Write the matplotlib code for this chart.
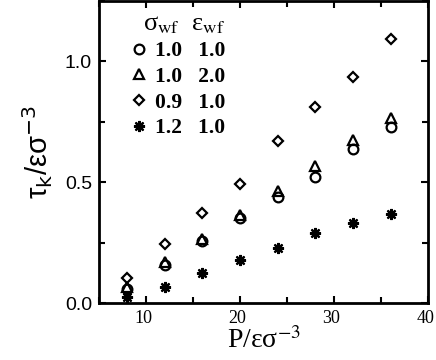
import matplotlib
matplotlib.use("Agg")
import matplotlib.pyplot as plt
import matplotlib.transforms as mtransforms
from matplotlib.ticker import MultipleLocator

P = [8, 12, 16, 20, 24, 28, 32, 36]
tau_s10_e10 = [0.060, 0.159, 0.256, 0.354, 0.441, 0.522, 0.639, 0.727]
tau_s10_e20 = [0.065, 0.170, 0.264, 0.365, 0.462, 0.568, 0.676, 0.768]
tau_s09_e10 = [0.105, 0.243, 0.371, 0.491, 0.672, 0.812, 0.935, 1.095]
tau_s12_e10 = [0.024, 0.068, 0.123, 0.178, 0.227, 0.289, 0.331, 0.369]
sigma_wf = ["1.0", "1.0", "0.9", "1.2"]
eps_wf = ["1.0", "2.0", "1.0", "1.0"]

fig = plt.figure(figsize=(4.36, 3.6), dpi=100)
ax = fig.add_axes([0.227, 0.158, 0.755, 0.839])

series = [tau_s10_e10, tau_s10_e20, tau_s09_e10, tau_s12_e10]
markers = ['o', '^', 'D', (8, 2, 0)]
sizes = [7, 7, 5.5, 8]
handles = []
for ys, m, ms in zip(series, markers, sizes):
    if m == (8, 2, 0):
        h, = ax.plot(P, ys, linestyle='none', marker=m, markersize=ms,
                     color='black', markeredgewidth=1.6)
    else:
        h, = ax.plot(P, ys, linestyle='none', marker=m, markersize=ms,
                     markerfacecolor='none', markeredgecolor='black',
                     markeredgewidth=1.6)
    handles.append(h)

ax.set_xlim(5, 40)
ax.set_ylim(0, 1.25)
ax.xaxis.set_minor_locator(MultipleLocator(5))
ax.yaxis.set_minor_locator(MultipleLocator(0.25))
ax.set_yticks([0.0, 0.5, 1.0])
ax.set_yticklabels(["0.0", "0.5", "1.0"])
ax.set_xticks([10, 20, 30, 40])
ax.set_xticklabels(["10", "20", "30", "40"])

ax.tick_params(which='both', direction='in', top=True, right=True, width=1.5)
ax.tick_params(which='major', length=5, pad=5)
ax.tick_params(which='minor', length=4)
shift = mtransforms.ScaledTranslation(-3 / 100, 0, fig.dpi_scale_trans)
for lab in ax.get_xticklabels():
    lab.set_family('Liberation Serif')
    lab.set_fontsize(13)
    lab.set_transform(lab.get_transform() + shift)
for lab in ax.get_yticklabels():
    lab.set_family('Liberation Sans')
    lab.set_fontsize(14)
for sp in ax.spines.values():
    sp.set_linewidth(2.0)

ax.set_xlabel('P/εσ$^{-3}$', family='Liberation Serif',
              fontsize=20, math_fontfamily='stix', labelpad=0)
ax.set_ylabel('τ$_{\\rm k}$/εσ$^{-3}$', family='Liberation Sans', fontsize=21,
              math_fontfamily='dejavusans', labelpad=7)

labels = [f"{s}   {e}" for s, e in zip(sigma_wf, eps_wf)]
leg = ax.legend(handles, labels, loc='upper left', frameon=False,
                bbox_to_anchor=(0.088, 0.975),
                prop={'family': 'Liberation Serif', 'weight': 'bold', 'size': 15.5},
                title='σ$_{\\rm wf}$  ε$_{\\rm wf}$',
                handlelength=0.6, handletextpad=0.45, labelspacing=0.26,
                borderpad=0.0, borderaxespad=0.2)
leg.get_title().set_fontsize(19)
leg.get_title().set_family('Liberation Serif')
leg.get_title().set_math_fontfamily('stix')
leg._legend_box.align = "right"

fig.savefig("out.png", dpi=100)
